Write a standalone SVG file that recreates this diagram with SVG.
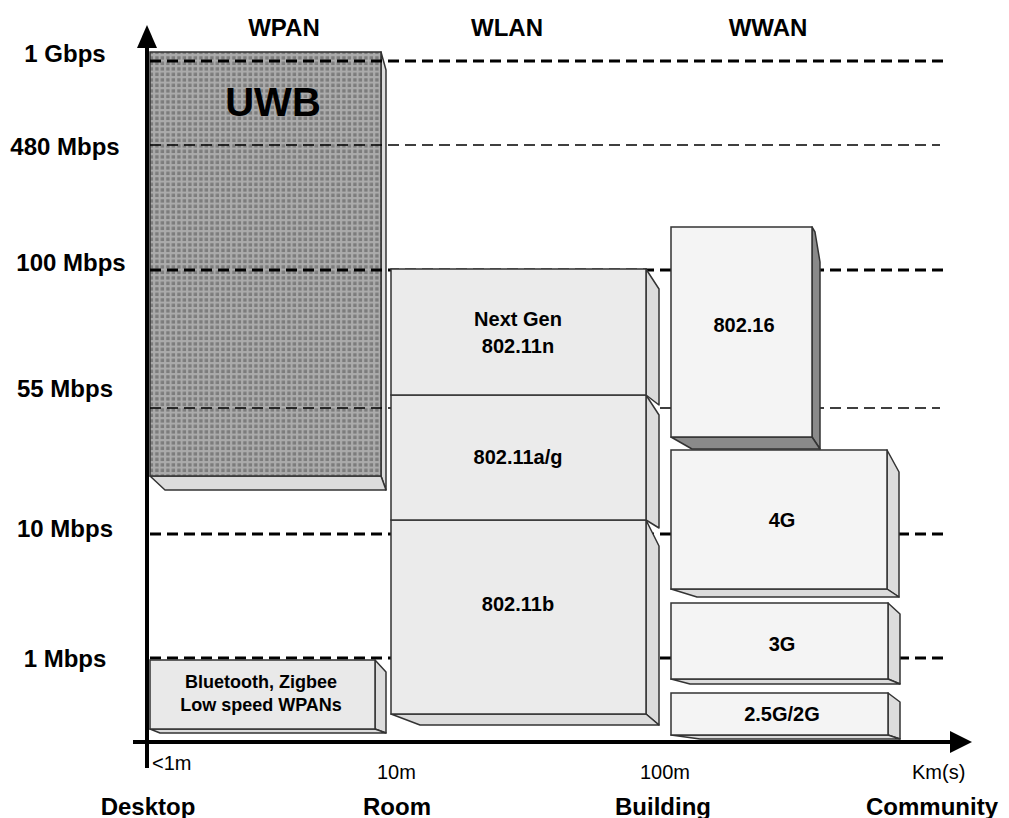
<svg xmlns="http://www.w3.org/2000/svg" width="1009" height="818" viewBox="0 0 1009 818">
  <defs>
    <pattern id="grid" x="0" y="0" width="5.5" height="5.5" patternUnits="userSpaceOnUse">
      <rect width="5.5" height="5.5" fill="#ababab"/>
      <rect x="1.2" y="1.2" width="3.4" height="3.4" fill="#7c7c7c"/>
    </pattern>
  </defs>
  <style>
    text { font-family: "Liberation Sans", Arial, sans-serif; fill: #000; }
    .ax { font-size: 24px; font-weight: bold; }
    .hd { font-size: 24px; font-weight: bold; text-anchor: middle; }
    .bl { font-size: 20px; font-weight: bold; text-anchor: middle; }
    .sm { font-size: 20px; }
    .front { stroke: #333; stroke-width: 1.5; }
    .side { fill: #dcdcdc; stroke: #333; stroke-width: 1.5; stroke-linejoin: round; }
    .dark { fill: #8a8a8a; stroke: #333; stroke-width: 1.5; stroke-linejoin: round; }
    .thick { stroke: #000; stroke-width: 3; stroke-dasharray: 11 6; fill: none; }
    .thin { stroke: #000; stroke-width: 1.3; stroke-dasharray: 11 6; fill: none; }
  </style>
  <rect width="1009" height="818" fill="#fff"/>

  <!-- UWB node (drawn below grid lines) -->
  <g id="uwb">
    <polygon class="side" points="381,52 386,70 386,490 381,476"/>
    <polygon class="side" points="150,476 381,476 386,490 165,490"/>
    <rect class="front" x="150" y="52" width="231" height="424" fill="url(#grid)"/>
    <text x="273" y="116" style="font-size:40px;font-weight:bold;text-anchor:middle;">UWB</text>
  </g>

  <!-- grid lines -->
  <g id="connectors">
    <line class="thick" x1="150" y1="61" x2="945" y2="61"/>
    <line class="thin" x1="150" y1="145" x2="940" y2="145"/>
    <line class="thick" x1="150" y1="270" x2="945" y2="270"/>
    <line class="thin" x1="150" y1="408" x2="940" y2="408"/>
    <line class="thick" x1="150" y1="534" x2="945" y2="534"/>
    <line class="thick" x1="150" y1="658" x2="945" y2="658"/>
  </g>

  <g id="bluetooth">
    <polygon class="side" points="375,660 386,672 386,733 375,729"/>
    <polygon class="side" points="150,729 375,729 386,733 160,733"/>
    <rect class="front" x="150" y="660" width="225" height="69" fill="#e9e9e9"/>
    <text x="261" y="688" style="font-size:18px;font-weight:bold;text-anchor:middle;">Bluetooth, Zigbee</text>
    <text x="261" y="711" style="font-size:18px;font-weight:bold;text-anchor:middle;">Low speed WPANs</text>
  </g>

  <g id="wlan-b">
    <polygon class="side" points="646,520 659,546 659,725 646,714"/>
    <polygon class="side" points="391,714 646,714 659,725 420,725"/>
    <rect class="front" x="391" y="520" width="255" height="194" fill="#ebebeb"/>
    <text class="bl" x="518" y="611">802.11b</text>
  </g>
  <g id="wlan-ag">
    <polygon class="side" points="646,395 659,415 659,528 646,520"/>
    <rect class="front" x="391" y="395" width="255" height="125" fill="#ebebeb"/>
    <text class="bl" x="518" y="464">802.11a/g</text>
  </g>
  <g id="wlan-n">
    <polygon class="side" points="646,269 659,289 659,405 646,395"/>
    <rect class="front" x="391" y="269" width="255" height="126" fill="#ebebeb"/>
    <text class="bl" x="518" y="326">Next Gen</text>
    <text class="bl" x="518" y="353">802.11n</text>
  </g>

  <g id="wwan-4g">
    <polygon class="side" points="887,450 899,472 899,597 887,589"/>
    <polygon class="side" points="671,589 887,589 899,597 697,597"/>
    <rect class="front" x="671" y="450" width="216" height="139" fill="#f4f4f4"/>
    <text class="bl" x="782" y="527">4G</text>
  </g>
  <g id="wwan-80216">
    <polygon class="dark" points="812,227 815,232 820,262 820,449 812,437"/>
    <polygon class="dark" points="671,437 812,437 820,449 692,449"/>
    <rect class="front" x="671" y="227" width="141" height="210" fill="#f4f4f4"/>
    <text class="bl" x="744" y="332">802.16</text>
  </g>
  <g id="wwan-3g">
    <polygon class="side" points="888,603 900,614 900,684 888,679"/>
    <polygon class="side" points="671,679 888,679 900,684 690,684"/>
    <rect class="front" x="671" y="603" width="217" height="76" fill="#f4f4f4"/>
    <text class="bl" x="782" y="651">3G</text>
  </g>
  <g id="wwan-2g">
    <polygon class="side" points="888,693 900,702 900,739 888,735"/>
    <polygon class="side" points="671,735 888,735 900,739 700,739"/>
    <rect class="front" x="671" y="693" width="217" height="42" fill="#f4f4f4"/>
    <text class="bl" x="782" y="721">2.5G/2G</text>
  </g>

  <!-- axes -->
  <g id="axes">
    <line x1="147" y1="768" x2="147" y2="45" stroke="#000" stroke-width="4"/>
    <polygon points="137,48 147,25 157,48" fill="#000"/>
    <line x1="133" y1="742" x2="952" y2="742" stroke="#000" stroke-width="4"/>
    <polygon points="950,731 972,742 950,753" fill="#000"/>
  </g>

  <!-- axis labels -->
  <g id="labels">
    <text class="ax" x="65" y="62" text-anchor="middle">1 Gbps</text>
    <text class="ax" x="65" y="155" text-anchor="middle">480 Mbps</text>
    <text class="ax" x="71" y="271" text-anchor="middle">100 Mbps</text>
    <text class="ax" x="65" y="397" text-anchor="middle">55 Mbps</text>
    <text class="ax" x="65" y="537" text-anchor="middle">10 Mbps</text>
    <text class="ax" x="65" y="667" text-anchor="middle">1 Mbps</text>

    <text class="hd" x="284" y="36">WPAN</text>
    <text class="hd" x="507" y="36">WLAN</text>
    <text class="hd" x="768" y="36">WWAN</text>

    <text class="sm" x="152" y="770">&lt;1m</text>
    <text class="sm" x="377" y="779">10m</text>
    <text class="sm" x="640" y="779">100m</text>
    <text class="sm" x="912" y="779">Km(s)</text>

    <text class="hd" x="148" y="815">Desktop</text>
    <text class="hd" x="397" y="815">Room</text>
    <text class="hd" x="663" y="815">Building</text>
    <text class="hd" x="932" y="815">Community</text>
  </g>
</svg>
